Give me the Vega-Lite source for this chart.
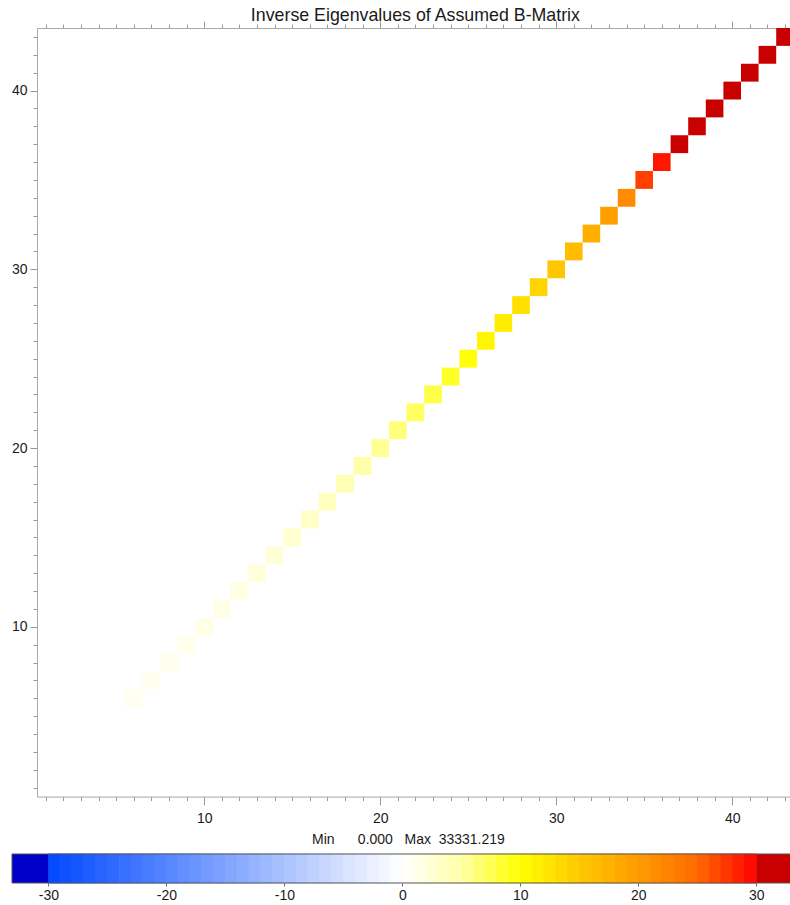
{
  "$schema": "https://vega.github.io/schema/vega-lite/v6.json",
  "padding": {"left": 11, "top": 6, "right": 0, "bottom": 0},
  "columns": 1,
  "spacing": 7,
  "config": {
    "font": "Liberation Sans",
    "view": {"stroke": null},
    "axis": {
      "grid": false,
      "title": null,
      "labelFont": "Liberation Sans",
      "labelFontSize": 14,
      "labelColor": "#1a1a1a",
      "domainColor": "#a8a8a8",
      "tickColor": "#999999"
    }
  },
  "concat": [
    {
      "width": 756.8,
      "height": 768.6,
      "title": {
        "text": "Inverse Eigenvalues of Assumed B-Matrix",
        "font": "Liberation Sans",
        "fontSize": 17.8,
        "fontWeight": "normal",
        "color": "#1a1a1a",
        "offset": -4
      },
      "data": {
        "values": [
          {"row": 6, "col": 6, "val": 0.8},
          {"row": 7, "col": 7, "val": 0.9},
          {"row": 8, "col": 8, "val": 1.0},
          {"row": 9, "col": 9, "val": 1.15},
          {"row": 10, "col": 10, "val": 1.3},
          {"row": 11, "col": 11, "val": 1.5},
          {"row": 12, "col": 12, "val": 1.75},
          {"row": 13, "col": 13, "val": 2.0},
          {"row": 14, "col": 14, "val": 2.3},
          {"row": 15, "col": 15, "val": 2.7},
          {"row": 16, "col": 16, "val": 3.2},
          {"row": 17, "col": 17, "val": 3.7},
          {"row": 18, "col": 18, "val": 4.3},
          {"row": 19, "col": 19, "val": 4.9},
          {"row": 20, "col": 20, "val": 5.6},
          {"row": 21, "col": 21, "val": 6.3},
          {"row": 22, "col": 22, "val": 7.1},
          {"row": 23, "col": 23, "val": 7.9},
          {"row": 24, "col": 24, "val": 8.8},
          {"row": 25, "col": 25, "val": 9.7},
          {"row": 26, "col": 26, "val": 10.7},
          {"row": 27, "col": 27, "val": 11.7},
          {"row": 28, "col": 28, "val": 12.8},
          {"row": 29, "col": 29, "val": 13.9},
          {"row": 30, "col": 30, "val": 15.1},
          {"row": 31, "col": 31, "val": 16.4},
          {"row": 32, "col": 32, "val": 17.8},
          {"row": 33, "col": 33, "val": 19.6},
          {"row": 34, "col": 34, "val": 21.6},
          {"row": 35, "col": 35, "val": 27.0},
          {"row": 36, "col": 36, "val": 28.9},
          {"row": 37, "col": 37, "val": 30.5},
          {"row": 38, "col": 38, "val": 31.0},
          {"row": 39, "col": 39, "val": 31.5},
          {"row": 40, "col": 40, "val": 32.0},
          {"row": 41, "col": 41, "val": 32.5},
          {"row": 42, "col": 42, "val": 33.0},
          {"row": 43, "col": 43, "val": 33.331}
        ]
      },
      "transform": [
        {"bin": {"step": 1, "extent": [0.5, 43.5], "nice": false}, "field": "col", "as": ["c0", "c1"]},
        {"bin": {"step": 1, "extent": [0.5, 43.5], "nice": false}, "field": "row", "as": ["r0", "r1"]}
      ],
      "layer": [
        {
          "mark": {"type": "rect"},
          "encoding": {
            "x": {
              "field": "c0",
              "type": "quantitative",
              "scale": {"domain": [0.5, 43.5], "nice": false, "zero": false},
              "axis": {
                "orient": "bottom",
                "values": [1,2,3,4,5,6,7,8,9,10,11,12,13,14,15,16,17,18,19,20,21,22,23,24,25,26,27,28,29,30,31,32,33,34,35,36,37,38,39,40,41,42,43],
                "tickSize": {"condition": {"test": "datum.value % 10 === 0", "value": 8}, "value": 4},
                "labelExpr": "datum.value % 10 === 0 ? datum.label : ''",
                "labelOverlap": false,
                "labelFlush": false,
                "labelPadding": 7
              }
            },
            "x2": {"field": "c1"},
            "y": {
              "field": "r0",
              "type": "quantitative",
              "scale": {"domain": [0.5, 43.5], "nice": false, "zero": false},
              "axis": {
                "orient": "left",
                "values": [1,2,3,4,5,6,7,8,9,10,11,12,13,14,15,16,17,18,19,20,21,22,23,24,25,26,27,28,29,30,31,32,33,34,35,36,37,38,39,40,41,42,43],
                "tickSize": {"condition": {"test": "datum.value % 10 === 0", "value": 7}, "value": 4},
                "labelExpr": "datum.value % 10 === 0 ? datum.label : ''",
                "labelOverlap": false,
                "labelFlush": false,
                "labelPadding": 3
              }
            },
            "y2": {"field": "r1"},
            "color": {
              "field": "val",
              "type": "quantitative",
              "legend": null,
              "scale": {
                "domain": [-33.4, -30.0001, -30, 0, 5, 10, 15, 20, 25, 30, 30.0001, 33.4],
                "range": ["#0000c8", "#0000c8", "#0048ff", "#ffffff", "#ffffa8", "#ffff00", "#ffc800", "#ff9c00", "#ff6a00", "#ff0000", "#c80000", "#c80000"],
                "interpolate": "rgb",
                "clamp": true
              }
            }
          }
        },
        {
          "mark": {"type": "rect", "opacity": 0},
          "encoding": {
            "x": {
              "field": "c0",
              "type": "quantitative",
              "axis": {
                "orient": "top",
                "values": [1,2,3,4,5,6,7,8,9,10,11,12,13,14,15,16,17,18,19,20,21,22,23,24,25,26,27,28,29,30,31,32,33,34,35,36,37,38,39,40,41,42,43],
                "tickSize": {"condition": {"test": "datum.value % 10 === 0", "value": 7}, "value": 4},
                "labels": false
              }
            },
            "x2": {"field": "c1"},
            "y": {
              "field": "r0",
              "type": "quantitative",
              "axis": {
                "orient": "right",
                "values": [1,2,3,4,5,6,7,8,9,10,11,12,13,14,15,16,17,18,19,20,21,22,23,24,25,26,27,28,29,30,31,32,33,34,35,36,37,38,39,40,41,42,43],
                "tickSize": {"condition": {"test": "datum.value % 10 === 0", "value": 7}, "value": 4},
                "labels": false
              }
            },
            "y2": {"field": "r1"}
          }
        }
      ],
      "resolve": {"axis": {"x": "independent", "y": "independent"}}
    },
    {
      "width": 756.8,
      "height": 29,
      "title": {
        "text": "Min\u00a0\u00a0\u00a0\u00a0\u00a0\u00a00.000\u00a0\u00a0\u00a0Max\u00a0\u00a033331.219",
        "font": "Liberation Sans",
        "fontSize": 14,
        "fontWeight": "normal",
        "color": "#1a1a1a",
        "dx": -7,
        "offset": 6
      },
      "layer": [
        {
          "data": {
            "values": [
              {"v": -29.5}, {"v": -28.5}, {"v": -27.5}, {"v": -26.5}, {"v": -25.5},
              {"v": -24.5}, {"v": -23.5}, {"v": -22.5}, {"v": -21.5}, {"v": -20.5},
              {"v": -19.5}, {"v": -18.5}, {"v": -17.5}, {"v": -16.5}, {"v": -15.5},
              {"v": -14.5}, {"v": -13.5}, {"v": -12.5}, {"v": -11.5}, {"v": -10.5},
              {"v": -9.5}, {"v": -8.5}, {"v": -7.5}, {"v": -6.5}, {"v": -5.5},
              {"v": -4.5}, {"v": -3.5}, {"v": -2.5}, {"v": -1.5}, {"v": -0.5},
              {"v": 0.5}, {"v": 1.5}, {"v": 2.5}, {"v": 3.5}, {"v": 4.5},
              {"v": 5.5}, {"v": 6.5}, {"v": 7.5}, {"v": 8.5}, {"v": 9.5},
              {"v": 10.5}, {"v": 11.5}, {"v": 12.5}, {"v": 13.5}, {"v": 14.5},
              {"v": 15.5}, {"v": 16.5}, {"v": 17.5}, {"v": 18.5}, {"v": 19.5},
              {"v": 20.5}, {"v": 21.5}, {"v": 22.5}, {"v": 23.5}, {"v": 24.5},
              {"v": 25.5}, {"v": 26.5}, {"v": 27.5}, {"v": 28.5}, {"v": 29.5}
            ]
          },
          "transform": [
            {"bin": {"step": 1, "extent": [-30, 30], "nice": false}, "field": "v", "as": ["b0", "b1"]}
          ],
          "mark": {"type": "rect", "strokeWidth": 0.8},
          "encoding": {
            "x": {
              "field": "b0",
              "type": "quantitative",
              "scale": {"domain": [-33.08, 33.08], "range": [-25, 755.7], "nice": false, "zero": false},
              "axis": {
                "orient": "bottom",
                "values": [-30, -20, -10, 0, 10, 20, 30],
                "labelExpr": "replace(datum.label, '\u2212', '-')",
                "domain": false,
                "tickSize": 3,
                "tickColor": "#666666",
                "labelPadding": 3,
                "labelFlush": false,
                "labelOverlap": false
              }
            },
            "x2": {"field": "b1"},
            "color": {"field": "v", "type": "quantitative", "legend": null},
            "stroke": {
              "field": "v",
              "type": "quantitative",
              "legend": null,
              "scale": {
                "domain": [-33.4, -30.0001, -30, 0, 5, 10, 15, 20, 25, 30, 30.0001, 33.4],
                "range": ["#0000c8", "#0000c8", "#0048ff", "#ffffff", "#ffffa8", "#ffff00", "#ffc800", "#ff9c00", "#ff6a00", "#ff0000", "#c80000", "#c80000"],
                "interpolate": "rgb",
                "clamp": true
              }
            }
          }
        },
        {
          "data": {
            "values": [
              {"lo": -33.08, "hi": -30, "v": -31.5},
              {"lo": 30, "hi": 33.08, "v": 31.5}
            ]
          },
          "mark": {"type": "rect"},
          "encoding": {
            "x": {"field": "lo", "type": "quantitative"},
            "x2": {"field": "hi"},
            "color": {"field": "v", "type": "quantitative", "legend": null}
          }
        },
        {
          "data": {"values": [{"lo": -33.08, "hi": 33.08}]},
          "mark": {"type": "rect", "fillOpacity": 0, "stroke": "#555555", "strokeWidth": 1},
          "encoding": {
            "x": {"field": "lo", "type": "quantitative"},
            "x2": {"field": "hi"}
          }
        }
      ]
    }
  ]
}
